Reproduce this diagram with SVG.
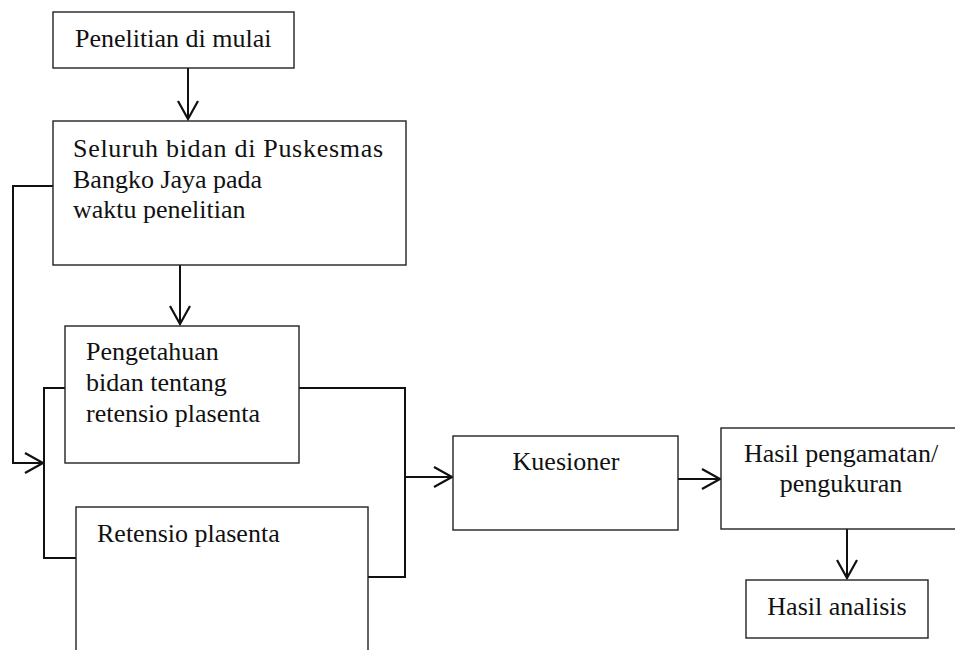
<svg xmlns="http://www.w3.org/2000/svg" width="955" height="650" viewBox="0 0 955 650">
<defs>
<style>
.box{fill:#fff;stroke:#222;stroke-width:1.4}
.t{font-family:"Liberation Serif","Times New Roman",serif;font-size:26px;fill:#111}
.c{fill:none;stroke:#111;stroke-width:2}
</style>
<marker id="ah" markerUnits="userSpaceOnUse" markerWidth="24" markerHeight="24" viewBox="0 0 24 24" refX="21" refY="12" orient="auto">
<path d="M3,2 L21,12 L3,22" fill="none" stroke="#111" stroke-width="2.2"/>
</marker>
</defs>
<rect width="955" height="650" fill="#fff"/>
<g id="connectors">
<path class="c" d="M188,68 V119" marker-end="url(#ah)"/>
<path class="c" d="M180,265 V324" marker-end="url(#ah)"/>
<path class="c" d="M53,186 H13 V463 H43" marker-end="url(#ah)"/>
<path class="c" d="M65,388 H44 V558 H76"/>
<path class="c" d="M299,388 H405 V577 H368"/>
<path class="c" d="M405,477 H452" marker-end="url(#ah)"/>
<path class="c" d="M678,479 H720" marker-end="url(#ah)"/>
<path class="c" d="M847,529 V578" marker-end="url(#ah)"/>
</g>
<g id="n1">
<rect class="box" x="53" y="12" width="241" height="56"/>
<text class="t" x="75" y="47">Penelitian di mulai</text>
</g>
<g id="n2">
<rect class="box" x="53" y="121" width="353" height="144"/>
<text class="t" x="73" y="157" textLength="310" lengthAdjust="spacing">Seluruh bidan di Puskesmas</text>
<text class="t" x="73" y="188">Bangko Jaya pada</text>
<text class="t" x="73" y="218">waktu penelitian</text>
</g>
<g id="n3">
<rect class="box" x="65" y="326" width="234" height="137"/>
<text class="t" x="86" y="360">Pengetahuan</text>
<text class="t" x="86" y="391">bidan tentang</text>
<text class="t" x="86" y="422">retensio plasenta</text>
</g>
<g id="n4">
<rect class="box" x="76" y="507" width="292" height="160"/>
<text class="t" x="97" y="542">Retensio plasenta</text>
</g>
<g id="n5">
<rect class="box" x="453" y="436" width="225" height="94"/>
<text class="t" x="566" y="470" text-anchor="middle">Kuesioner</text>
</g>
<g id="n6">
<rect class="box" x="721" y="428" width="240" height="101"/>
<text class="t" x="841" y="462" text-anchor="middle">Hasil pengamatan/</text>
<text class="t" x="841" y="492" text-anchor="middle">pengukuran</text>
</g>
<g id="n7">
<rect class="box" x="746" y="580" width="182" height="58"/>
<text class="t" x="837" y="615" text-anchor="middle">Hasil analisis</text>
</g>
</svg>
